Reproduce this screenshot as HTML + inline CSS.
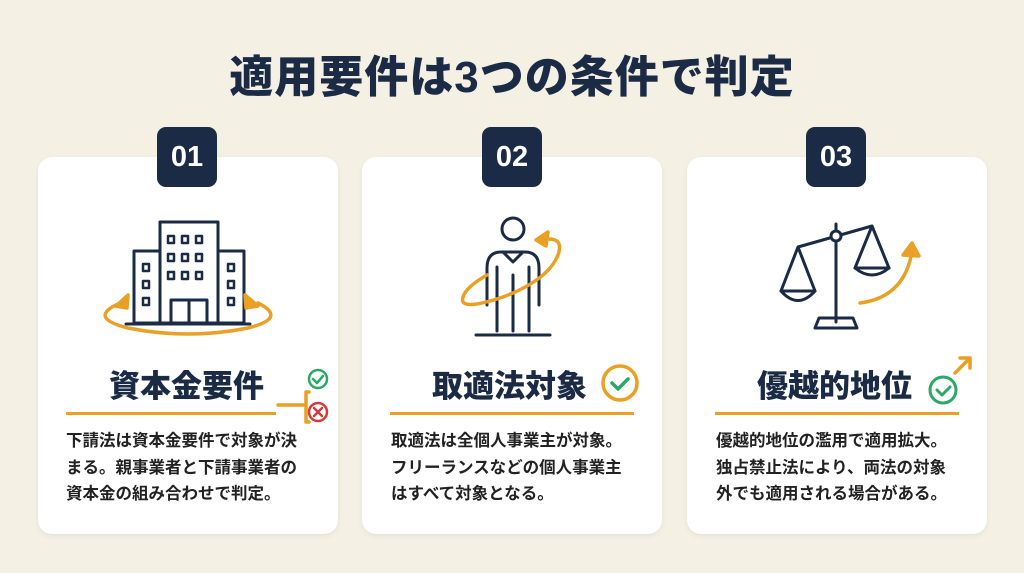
<!DOCTYPE html>
<html><head><meta charset="utf-8"><style>
body{margin:0;width:1024px;height:573px;background:#f4f0e3;position:relative;overflow:hidden;font-family:"Liberation Sans","Noto Sans CJK JP",sans-serif;color:#1b2b45}
.t{position:absolute;left:0;width:1024px;top:41px;text-align:center;font-size:44px;font-weight:900;letter-spacing:1px}
.card{position:absolute;top:157px;width:300px;height:377px;background:#fff;border-radius:14px;box-shadow:0 2px 6px rgba(0,0,0,.06)}
.badge{position:absolute;top:127px;width:60px;height:60px;background:#1b2b45;border-radius:9px;color:#fff;font-size:29px;font-weight:bold;text-align:center;line-height:60px}
.h{position:absolute;font-size:31px;font-weight:900;white-space:nowrap;top:361px}
.line{position:absolute;top:412px;height:3px;background:#e9a024}
.p{position:absolute;top:428px;font-size:16.5px;line-height:26.5px;font-weight:bold;color:#222;white-space:nowrap}
svg{position:absolute;left:0;top:0}
</style></head><body>
<div class="t">適用要件は3つの条件で判定</div>
<div class="card" style="left:38px"></div>
<div class="card" style="left:362px"></div>
<div class="card" style="left:687px"></div>
<div class="badge" style="left:157px">01</div>
<div class="badge" style="left:482px">02</div>
<div class="badge" style="left:806px">03</div>
<svg width="1024" height="573" fill="none" stroke-linecap="round" stroke-linejoin="round">
<g stroke="#1b2b45" stroke-width="3">
<rect x="160" y="222" width="58" height="101"/>
<rect x="134" y="251" width="26" height="72"/><rect x="218" y="251" width="26" height="72"/>
<line x1="126" y1="324" x2="250" y2="324"/>
<path d="M171 323V300h36v23M189 300v23"/>
<g stroke-width="2.5">
<rect x="168" y="236" width="6" height="7"/><rect x="182" y="236" width="6" height="7"/><rect x="196" y="236" width="6" height="7"/>
<rect x="168" y="254" width="6" height="7"/><rect x="182" y="254" width="6" height="7"/><rect x="196" y="254" width="6" height="7"/>
<rect x="168" y="272" width="6" height="7"/><rect x="182" y="272" width="6" height="7"/><rect x="196" y="272" width="6" height="7"/>
<rect x="143" y="264" width="6" height="7"/><rect x="143" y="281" width="6" height="7"/><rect x="143" y="298" width="6" height="7"/>
<rect x="228" y="264" width="6" height="7"/><rect x="228" y="281" width="6" height="7"/><rect x="228" y="298" width="6" height="7"/>
</g>
<circle cx="513" cy="229" r="11"/>
<path d="M487 305V268q0-16 14-16h24q14 0 14 16v37M497 267v64M529 267v64M513 275v56M503 252l10 10 10-10"/>
<line x1="476" y1="335" x2="550" y2="335"/>
<path d="M836 224v98M798 247l74-21M798 247l-17 44h34zM872 226l-17 42h34z"/>
<circle cx="836" cy="236" r="5" fill="#fff"/>
<path d="M781 291q17 19 34 0M855 268q17 14 34 0"/>
<path d="M815 328h42l-4-10h-34z"/>
</g>
<g stroke="#e9a024" stroke-width="3.5">
<path d="M118 304q-30 14 10 24 60 12 120 0 40-10 10-25"/>
<path d="M116 306l12-11-1 13z" fill="#e9a024"/>
<path d="M258 306l-13-11 1 13z" fill="#e9a024"/>
<path d="M540 240q25-5 18 15-10 25-55 42-45 15-40 0 3-10 24-22"/>
<path d="M536 240l12-8-2 14z" fill="#e9a024"/>
<path d="M860 303q45-6 52-52"/>
<path d="M903 255l9-12 7 13z" fill="#e9a024"/>
<path d="M278 405h28M306 392v30M306 392h3M306 422h3"/>
<circle cx="620" cy="383" r="17"/>
<path d="M955 373l15-15M960 358h10v10"/>
</g>
<circle cx="318" cy="379" r="9" stroke="#2aa866" stroke-width="2.5"/>
<path d="M313 379l4 4 6-7" stroke="#2aa866" stroke-width="2.5"/>
<circle cx="318" cy="412" r="9" stroke="#d33b3b" stroke-width="2.5"/>
<path d="M314 408l8 8M322 408l-8 8" stroke="#d33b3b" stroke-width="2.5"/>
<path d="M612 383l6 6 10-10" stroke="#2aa866" stroke-width="3.5"/>
<circle cx="943" cy="390" r="13" stroke="#2aa866" stroke-width="3"/>
<path d="M937 390l5 5 8-8" stroke="#2aa866" stroke-width="3"/>
</svg>
<div class="h" style="left:109px">資本金要件</div>
<div class="h" style="left:432px">取適法対象</div>
<div class="h" style="left:757px">優越的地位</div>
<div class="line" style="left:66px;width:210px"></div>
<div class="line" style="left:390px;width:244px"></div>
<div class="line" style="left:715px;width:244px"></div>
<div class="p" style="left:66px">下請法は資本金要件で対象が決<br>まる。親事業者と下請事業者の<br>資本金の組み合わせで判定。</div>
<div class="p" style="left:391px">取適法は全個人事業主が対象。<br>フリーランスなどの個人事業主<br>はすべて対象となる。</div>
<div class="p" style="left:716px">優越的地位の濫用で適用拡大。<br>独占禁止法により、両法の対象<br>外でも適用される場合がある。</div>
</body></html>
